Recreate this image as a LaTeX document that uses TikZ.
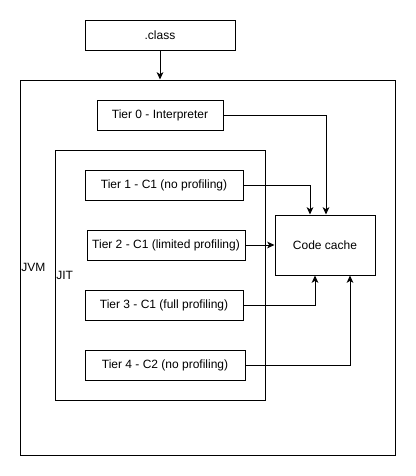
\documentclass[tikz,border=0pt]{standalone}
\usepackage{fontspec}
\setmainfont{Liberation Sans}
\usetikzlibrary{arrows.meta,calc}
\begin{document}
\begin{tikzpicture}[x=0.75pt,y=-0.75pt,
  box/.style={draw=black,line width=0.75pt,minimum height=30*0.75pt,inner sep=0pt,font=\fontsize{9pt}{11pt}\selectfont},
  cont/.style={draw=black,line width=0.75pt,inner sep=0pt},
  lbl/.style={anchor=west,inner sep=0pt,font=\fontsize{9pt}{11pt}\selectfont},
  conn/.style={line width=0.75pt,-{Stealth[length=5.5pt,width=5pt,inset=1.5pt]}}]
\useasboundingbox (0,0) rectangle (416,476);
\node[cont,minimum width=375*0.75pt,minimum height=375*0.75pt] (jvm) at (207.5,267.5) {};
\node[lbl] (jvmlbl) at (21,267) {JVM};
\node[cont,minimum width=210*0.75pt,minimum height=250*0.75pt] (jit) at (160,275) {};
\node[lbl] (jitlbl) at (56,275) {JIT};
\node[box,minimum width=150*0.75pt] (cls) at (160,35) {.class};
\node[box,minimum width=126*0.75pt] (t0) at (160,115) {Tier 0 - Interpreter};
\node[box,minimum width=158*0.75pt] (t1) at (164,185) {Tier 1 - C1 (no profiling)};
\node[box,minimum width=158*0.75pt] (t2) at (166,245) {Tier 2 - C1 (limited profiling)};
\node[box,minimum width=158*0.75pt] (t3) at (164,305) {Tier 3 - C1 (full profiling)};
\node[box,minimum width=160*0.75pt] (t4) at (165,365) {Tier 4 - C2 (no profiling)};
\node[box,minimum width=100*0.75pt,minimum height=60*0.75pt] (cc) at (325,245) {Code cache};
\draw[conn] (cls.south) -- (cls.south |- jvm.north);
\draw[conn] (t0.east) -| ([xshift=0.75pt]cc.north);
\draw[conn] (t1.east) -| ([xshift=-15*0.75pt]cc.north);
\draw[conn] (t2.east) -- (cc.west);
\draw[conn] (t3.east) -| ([xshift=-10*0.75pt]cc.south);
\draw[conn] (t4.east) -| ([xshift=25*0.75pt]cc.south);
\end{tikzpicture}
\end{document}
